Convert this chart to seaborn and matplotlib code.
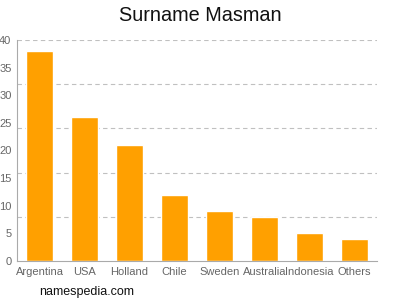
import matplotlib
matplotlib.use("Agg")
import matplotlib.pyplot as plt
import seaborn as sns
import pandas as pd

countries = ["Argentina", "USA", "Holland", "Chile", "Sweden", "Australia", "Indonesia", "Others"]
counts = [38, 26, 21, 12, 9, 8, 5, 4]
y_ticks = [0, 5, 10, 15, 20, 25, 30, 35, 40]
grid_levels = [8, 16, 24, 32, 40]

sns.set_theme(style="white")
plt.rcParams['font.family'] = ['Liberation Sans', 'DejaVu Sans']

df = pd.DataFrame({"country": countries, "count": counts})

fig = plt.figure(figsize=(4, 3), dpi=100)
ax = fig.add_axes([0.0425, 0.13, 0.9, 0.7367])
for g in grid_levels:
    ax.axhline(g, color="#c0c0c0", linestyle=(0, (4, 3)), linewidth=0.8, zorder=0)
sns.barplot(data=df, x="country", y="count", color="#FFA000", saturation=1, width=0.62, ax=ax, zorder=2)

ax.set_xlim(-0.5, len(countries) - 0.5)
ax.set_ylim(0, 40)
ax.set_yticks(y_ticks)
ax.set_xlabel("")
ax.set_ylabel("")
for s in ["top", "right"]:
    ax.spines[s].set_visible(False)
for s in ["left", "bottom"]:
    ax.spines[s].set_color("#aaaaaa")
    ax.spines[s].set_linewidth(0.8)
ax.tick_params(axis="both", colors="#aaaaaa", length=3, width=0.8, labelsize=8, pad=1, labelcolor="#666666")
fig.text(0.5, 0.948, "Surname Masman", ha="center", va="center", fontsize=14.3, color="#111111")
fig.text(0.0975, 0.027, "namespedia.com", ha="left", va="center", fontsize=9, color="#111111")
fig.savefig("out.png", dpi=100)
